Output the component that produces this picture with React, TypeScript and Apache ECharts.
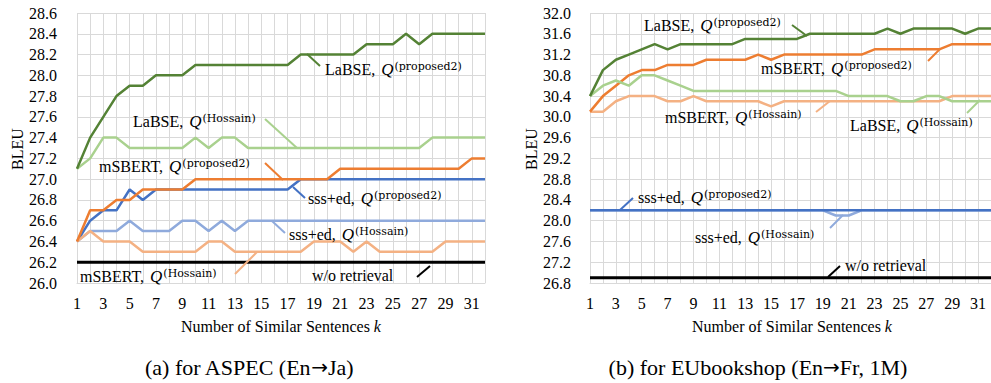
import React, { useEffect, useRef } from "react";
import * as echarts from "echarts";

const ks = ["1","2","3","4","5","6","7","8","9","10","11","12","13","14","15","16","17","18","19","20","21","22","23","24","25","26","27","28","29","30","31","32"];

// (a) ASPEC En->Ja
const aLabseProp = [27.1,27.4,27.6,27.8,27.9,27.9,28.0,28.0,28.0,28.1,28.1,28.1,28.1,28.1,28.1,28.1,28.1,28.2,28.2,28.2,28.2,28.2,28.3,28.3,28.3,28.4,28.3,28.4,28.4,28.4,28.4,28.4];
const aLabseHoss = [27.1,27.2,27.4,27.4,27.3,27.3,27.3,27.3,27.3,27.4,27.3,27.4,27.4,27.3,27.3,27.3,27.3,27.3,27.3,27.3,27.3,27.3,27.3,27.3,27.3,27.3,27.3,27.4,27.4,27.4,27.4,27.4];
const aMsbertProp = [26.4,26.7,26.7,26.8,26.8,26.9,26.9,26.9,26.9,27.0,27.0,27.0,27.0,27.0,27.0,27.0,27.0,27.0,27.0,27.0,27.1,27.1,27.1,27.1,27.1,27.1,27.1,27.1,27.1,27.1,27.2,27.2];
const aSssProp = [26.4,26.6,26.7,26.7,26.9,26.8,26.9,26.9,26.9,26.9,26.9,26.9,26.9,26.9,26.9,26.9,26.9,27.0,27.0,27.0,27.0,27.0,27.0,27.0,27.0,27.0,27.0,27.0,27.0,27.0,27.0,27.0];
const aSssHoss = [26.4,26.5,26.5,26.5,26.6,26.5,26.5,26.5,26.6,26.6,26.5,26.6,26.5,26.6,26.6,26.6,26.6,26.6,26.6,26.6,26.6,26.6,26.6,26.6,26.6,26.6,26.6,26.6,26.6,26.6,26.6,26.6];
const aMsbertHoss = [26.4,26.5,26.4,26.4,26.4,26.3,26.3,26.3,26.3,26.3,26.4,26.4,26.3,26.3,26.3,26.3,26.3,26.3,26.4,26.4,26.4,26.3,26.4,26.3,26.3,26.3,26.3,26.3,26.4,26.4,26.4,26.4];
const aNoRetrieval = [26.2,26.2,26.2,26.2,26.2,26.2,26.2,26.2,26.2,26.2,26.2,26.2,26.2,26.2,26.2,26.2,26.2,26.2,26.2,26.2,26.2,26.2,26.2,26.2,26.2,26.2,26.2,26.2,26.2,26.2,26.2,26.2];

// (b) EUbookshop En->Fr, 1M
const bLabseProp = [30.4,30.9,31.1,31.2,31.3,31.4,31.3,31.4,31.4,31.4,31.4,31.4,31.5,31.5,31.5,31.5,31.5,31.6,31.6,31.6,31.6,31.6,31.6,31.7,31.6,31.7,31.7,31.7,31.7,31.6,31.7,31.7];
const bMsbertProp = [30.1,30.4,30.6,30.8,30.9,30.9,31.0,31.0,31.0,31.1,31.1,31.1,31.1,31.2,31.1,31.2,31.2,31.2,31.2,31.2,31.2,31.2,31.3,31.3,31.3,31.3,31.3,31.3,31.4,31.4,31.4,31.4];
const bLabseHoss = [30.4,30.6,30.7,30.6,30.8,30.8,30.7,30.6,30.5,30.5,30.5,30.5,30.5,30.5,30.5,30.5,30.5,30.5,30.5,30.5,30.4,30.4,30.4,30.4,30.3,30.3,30.4,30.4,30.3,30.3,30.3,30.3];
const bMsbertHoss = [30.1,30.1,30.3,30.4,30.4,30.4,30.3,30.3,30.4,30.3,30.3,30.3,30.3,30.3,30.2,30.3,30.3,30.3,30.3,30.3,30.3,30.3,30.3,30.3,30.3,30.3,30.3,30.3,30.4,30.4,30.4,30.4];
const bSssProp = [28.2,28.2,28.2,28.2,28.2,28.2,28.2,28.2,28.2,28.2,28.2,28.2,28.2,28.2,28.2,28.2,28.2,28.2,28.2,28.2,28.2,28.2,28.2,28.2,28.2,28.2,28.2,28.2,28.2,28.2,28.2,28.2];
const bSssHoss = [28.2,28.2,28.2,28.2,28.2,28.2,28.2,28.2,28.2,28.2,28.2,28.2,28.2,28.2,28.2,28.2,28.2,28.2,28.2,28.1,28.1,28.2,28.2,28.2,28.2,28.2,28.2,28.2,28.2,28.2,28.2,28.2];
const bNoRetrieval = [26.9,26.9,26.9,26.9,26.9,26.9,26.9,26.9,26.9,26.9,26.9,26.9,26.9,26.9,26.9,26.9,26.9,26.9,26.9,26.9,26.9,26.9,26.9,26.9,26.9,26.9,26.9,26.9,26.9,26.9,26.9,26.9];

const SERIF = "'Liberation Serif', 'Times New Roman', serif";
const MATH = "'DejaVu Serif', serif";
const ARROW = "'DejaVu Sans', sans-serif";

const C = {
  darkGreen: "#548235",
  lightGreen: "#A9D18E",
  orange: "#ED7D31",
  lightOrange: "#F4B183",
  blue: "#4472C4",
  lightBlue: "#8FAADC",
  black: "#000000",
};

function annot(x: number, y: number, name: string, sup: string | null, ln: number[], color: string) {
  const text = sup ? `{n|${name}, }{q|Q}{s|(${sup})}` : `{n|${name}}`;
  return [
    {
      type: "text",
      x,
      y,
      z: 100,
      style: {
        text,
        align: "left",
        verticalAlign: "middle",
        rich: {
          n: { fontFamily: SERIF, fontSize: 16, fill: "#000" },
          q: { fontFamily: SERIF, fontStyle: "italic", fontSize: 17, fill: "#000", padding: [0, 0, 0, 2] },
          s: { fontFamily: MATH, fontSize: 11, fill: "#000", padding: [0, 0, 6, 1] },
        },
      },
    },
    {
      type: "line",
      z: 100,
      shape: { x1: ln[0], y1: ln[1], x2: ln[2], y2: ln[3] },
      style: { stroke: color, lineWidth: 2 },
    },
  ];
}

function caption(x: number, y: number, before: string, after: string) {
  return {
    type: "text",
    x,
    y,
    z: 100,
    style: {
      text: `{t|${before}}{a|\u2192}{t|${after}}`,
      align: "center",
      verticalAlign: "middle",
      rich: {
        t: { fontFamily: SERIF, fontSize: 22, fill: "#000" },
        a: { fontFamily: ARROW, fontSize: 20, fill: "#000" },
      },
    },
  };
}

function line(name: string, data: number[], color: string, idx: number, width = 2.5) {
  return {
    name,
    type: "line",
    xAxisIndex: idx,
    yAxisIndex: idx,
    data,
    symbol: "none",
    lineStyle: { color, width },
    itemStyle: { color },
  };
}

function xAxisCfg(idx: number) {
  return {
    type: "category",
    gridIndex: idx,
    data: ks,
    boundaryGap: false,
    axisLine: { show: true, lineStyle: { color: "#d9d9d9", width: 1 } },
    axisTick: { show: false },
    axisLabel: { interval: 1, fontFamily: SERIF, fontSize: 16, color: "#000", margin: 12 },
    splitLine: { show: true, interval: 0, lineStyle: { color: "#d9d9d9", width: 1 } },
  };
}

function yAxisCfg(idx: number, min: number, max: number, interval: number, margin: number) {
  return {
    type: "value",
    gridIndex: idx,
    min,
    max,
    interval,
    axisLine: { show: false },
    axisTick: { show: false },
    axisLabel: {
      fontFamily: SERIF,
      fontSize: 16,
      color: "#000",
      margin,
      formatter: (v: number) => v.toFixed(1),
    },
    splitLine: { show: true, lineStyle: { color: "#d9d9d9", width: 1 } },
  };
}

export default function App() {
  const ref = useRef<HTMLDivElement>(null);
  useEffect(() => {
    if (!ref.current) return;
    const chart = echarts.init(ref.current, null, { renderer: "svg" });
    const graphic: any[] = [
      // axis titles
      { type: "text", x: 17.5, y: 149, rotation: Math.PI / 2, z: 100,
        style: { text: "BLEU", align: "center", verticalAlign: "middle", fontFamily: SERIF, fontSize: 16, fill: "#000" } },
      { type: "text", x: 531, y: 149, rotation: Math.PI / 2, z: 100,
        style: { text: "BLEU", align: "center", verticalAlign: "middle", fontFamily: SERIF, fontSize: 16, fill: "#000" } },
      { type: "text", x: 281, y: 326, z: 100,
        style: { text: "{a|Number of Similar Sentences }{k|k}", align: "center", verticalAlign: "middle",
          rich: { a: { fontFamily: SERIF, fontSize: 16, fill: "#000" }, k: { fontFamily: SERIF, fontSize: 16, fontStyle: "italic", fill: "#000" } } } },
      { type: "text", x: 792, y: 326, z: 100,
        style: { text: "{a|Number of Similar Sentences }{k|k}", align: "center", verticalAlign: "middle",
          rich: { a: { fontFamily: SERIF, fontSize: 16, fill: "#000" }, k: { fontFamily: SERIF, fontSize: 16, fontStyle: "italic", fill: "#000" } } } },
      // captions
      caption(249, 367, "(a) for ASPEC (En", "Ja)"),
      caption(758, 367, "(b) for EUbookshop (En", "Fr, 1M)"),
      // left annotations
      ...annot(325, 69, "LaBSE", "proposed2", [307, 54, 320, 66], C.darkGreen),
      ...annot(133, 121, "LaBSE", "Hossain", [265, 119, 297, 148], C.lightGreen),
      ...annot(99, 166, "mSBERT", "proposed2", [265, 163, 283, 180], C.orange),
      ...annot(308, 198, "sss+ed", "proposed2", [293, 187, 305, 198], C.blue),
      ...annot(289, 234, "sss+ed", "Hossain", [272, 221, 285, 233], C.lightBlue),
      ...annot(80, 276, "mSBERT", "Hossain", [235, 274, 257, 252], C.lightOrange),
      ...annot(312, 275, "w/o retrieval", null, [417, 277, 430, 266], C.black),
      // right annotations
      ...annot(644, 25, "LaBSE", "proposed2", [792, 25, 807, 36], C.darkGreen),
      ...annot(761, 68, "mSBERT", "proposed2", [928, 61, 940, 49], C.orange),
      ...annot(665, 117, "mSBERT", "Hossain", [816, 112, 830, 101], C.lightOrange),
      ...annot(850, 125, "LaBSE", "Hossain", [967, 113, 980, 100], C.lightGreen),
      ...annot(638, 197, "sss+ed", "proposed2", [620, 210, 633, 198], C.blue),
      ...annot(695, 237, "sss+ed", "Hossain", [830, 228, 843, 215], C.lightBlue),
      ...annot(845, 265, "w/o retrieval", null, [828, 277, 840, 266], C.black),
    ];

    chart.setOption({
      animation: false,
      backgroundColor: "#ffffff",
      textStyle: { fontFamily: SERIF },
      grid: [
        { left: 77, top: 13, width: 408, height: 270 },
        { left: 590, top: 13, width: 403, height: 270 },
      ],
      xAxis: [xAxisCfg(0), xAxisCfg(1)],
      yAxis: [yAxisCfg(0, 26.0, 28.6, 0.2, 20), yAxisCfg(1, 26.8, 32.0, 0.4, 19)],
      series: [
        line("w/o retrieval", aNoRetrieval, C.black, 0, 3),
        line("sss+ed, Q(Hossain)", aSssHoss, C.lightBlue, 0),
        line("sss+ed, Q(proposed2)", aSssProp, C.blue, 0),
        line("mSBERT, Q(Hossain)", aMsbertHoss, C.lightOrange, 0),
        line("mSBERT, Q(proposed2)", aMsbertProp, C.orange, 0),
        line("LaBSE, Q(Hossain)", aLabseHoss, C.lightGreen, 0),
        line("LaBSE, Q(proposed2)", aLabseProp, C.darkGreen, 0),
        line("w/o retrieval", bNoRetrieval, C.black, 1, 3),
        line("sss+ed, Q(Hossain)", bSssHoss, C.lightBlue, 1),
        line("sss+ed, Q(proposed2)", bSssProp, C.blue, 1),
        line("mSBERT, Q(Hossain)", bMsbertHoss, C.lightOrange, 1),
        line("mSBERT, Q(proposed2)", bMsbertProp, C.orange, 1),
        line("LaBSE, Q(Hossain)", bLabseHoss, C.lightGreen, 1),
        line("LaBSE, Q(proposed2)", bLabseProp, C.darkGreen, 1),
      ],
      graphic,
    });
    return () => chart.dispose();
  }, []);
  return <div ref={ref} style={{ position: "absolute", left: 0, top: 0, width: 991, height: 383 }} />;
}
